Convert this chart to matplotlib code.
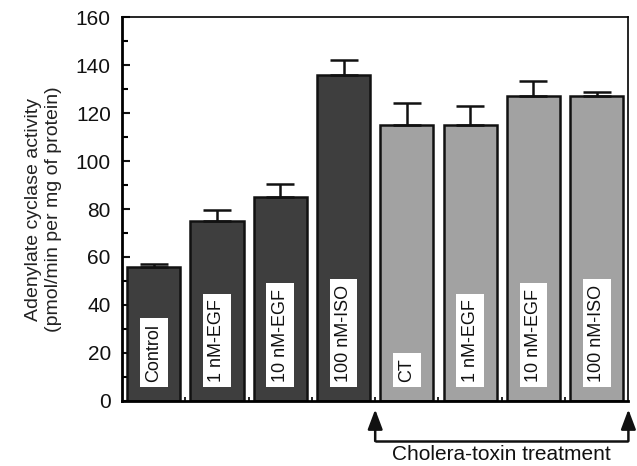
import numpy as np
import matplotlib
matplotlib.use("Agg")
import matplotlib.pyplot as plt

# --- data ---
labels = ["Control", "1 nM-EGF", "10 nM-EGF", "100 nM-ISO",
          "CT", "1 nM-EGF", "10 nM-EGF", "100 nM-ISO"]
activity = [56, 75, 85, 136, 115, 115, 127, 127]
errors = [1, 4.5, 5.3, 6, 9, 8, 6.5, 1.8]
ct_treated = [False, False, False, False, True, True, True, True]

plt.rcParams['font.family'] = ['Liberation Sans', 'DejaVu Sans']

fig = plt.figure(figsize=(6.37, 4.66), dpi=100)
ax = fig.add_axes([0.1915, 0.1395, 0.795, 0.824])

x = np.arange(len(labels))
colors = ['#a2a2a2' if t else '#3e3e3e' for t in ct_treated]

ax.bar(x, activity, width=0.84, color=colors, edgecolor='#111111',
       linewidth=1.8, zorder=2)
ax.errorbar(x, activity, yerr=[np.zeros(len(errors)), errors], fmt='none',
            ecolor='#111111', elinewidth=1.8, capsize=10, capthick=1.8, zorder=3)

# rotated labels in white boxes inside each bar
for xi, lab in zip(x, labels):
    ax.text(xi, 8, lab, rotation=90, ha='center', va='bottom', fontsize=13,
            color='#111111', zorder=4,
            bbox=dict(boxstyle='square,pad=0.3', facecolor='white', edgecolor='none'))

ax.set_xlim(-0.5, 7.5)
ax.set_ylim(0, 160)
ax.set_yticks(np.arange(0, 161, 20))
ax.set_yticks(np.arange(10, 160, 20), minor=True)
ax.set_xticks(np.arange(0.5, 7, 1))
ax.set_xticklabels([])
ax.tick_params(axis='y', which='major', direction='in', length=6, width=1.5,
               labelsize=15, pad=8, colors='#111111')
ax.tick_params(axis='y', which='minor', direction='in', length=4, width=1.5)
ax.tick_params(axis='x', which='major', direction='in', length=3, width=1.2)
for side in ['left', 'bottom']:
    ax.spines[side].set_linewidth(2)
for side in ['top', 'right']:
    ax.spines[side].set_linewidth(1.2)

ax.set_ylabel('Adenylate cyclase activity\n(pmol/min per mg of protein)',
              fontsize=14, labelpad=10, color='#222222', linespacing=1.2)

# cholera-toxin treatment bracket
arrow = dict(arrowstyle='-|>,head_width=0.45,head_length=1.2', mutation_scale=10,
             color='#111111', lw=1.8, shrinkA=0, shrinkB=0)
ax.annotate('', xy=(7.5, -3.5), xytext=(7.5, -16.7), annotation_clip=False,
            arrowprops=arrow)
ax.annotate('', xy=(3.5, -3.5), xytext=(3.5, -16.7), annotation_clip=False,
            arrowprops=arrow)
ax.plot([3.5, 7.5], [-16.7, -16.7], color='#111111', lw=1.8, clip_on=False,
        solid_capstyle='butt')
ax.text(5.5, -22.5, 'Cholera-toxin treatment', ha='center', va='center',
        fontsize=15, color='#111111')

fig.savefig('out.png', dpi=100)
